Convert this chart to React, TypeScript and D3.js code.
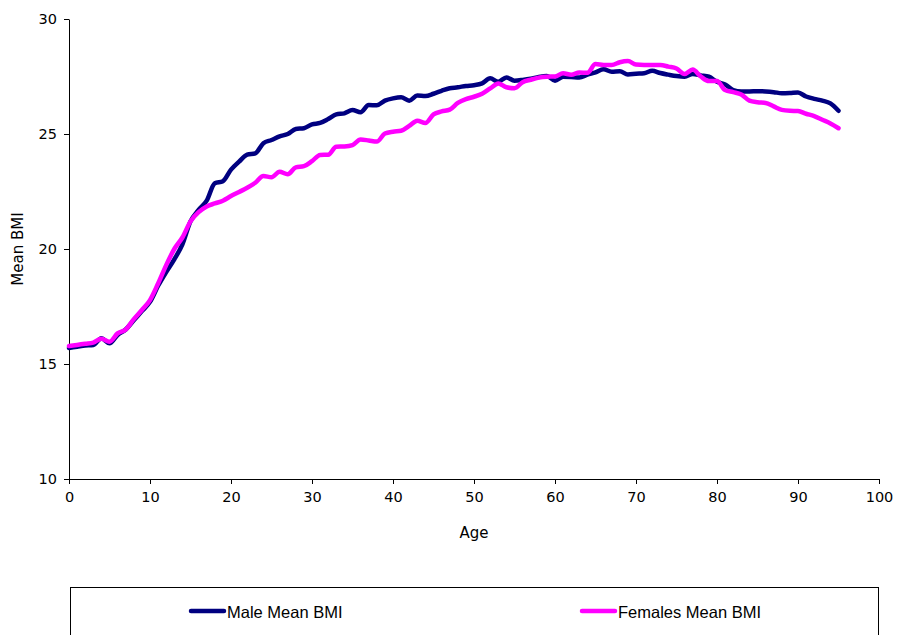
import { useEffect, useRef } from "react"
import * as d3 from "d3"

// mean BMI by single year of age
const ages = d3.range(0, 96)
const maleBmi = [
  15.7, 15.75, 15.8, 15.83, 16.12, 15.9, 16.26, 16.5, 16.9, 17.3,
  17.7, 18.4, 19.0, 19.55, 20.2, 21.2, 21.7, 22.1, 22.86, 22.95,
  23.45, 23.8, 24.1, 24.16, 24.6, 24.74, 24.9, 25.0, 25.22, 25.25,
  25.42, 25.48, 25.65, 25.85, 25.9, 26.04, 25.95, 26.26, 26.25, 26.45,
  26.55, 26.6, 26.45, 26.67, 26.65, 26.75, 26.88, 26.99, 27.03, 27.09,
  27.12, 27.2, 27.42, 27.27, 27.46, 27.32, 27.35, 27.4, 27.48, 27.52,
  27.32, 27.49, 27.48, 27.46, 27.58, 27.68, 27.81, 27.71, 27.73, 27.59,
  27.62, 27.64, 27.75, 27.65, 27.58, 27.52, 27.49, 27.61, 27.55, 27.49,
  27.27, 27.15, 26.91, 26.85, 26.85, 26.86, 26.85, 26.82, 26.77, 26.78,
  26.8, 26.63, 26.53, 26.45, 26.33, 26.01
]
const femaleBmi = [
  15.78, 15.83, 15.88, 15.93, 16.1, 15.97, 16.33, 16.5, 16.95, 17.35,
  17.78, 18.5, 19.3, 20.0, 20.5, 21.2, 21.6, 21.85, 21.98, 22.1,
  22.3, 22.48, 22.66, 22.88, 23.17, 23.12, 23.36, 23.25, 23.55, 23.6,
  23.82, 24.09, 24.1, 24.45, 24.46, 24.52, 24.76, 24.72, 24.67, 25.02,
  25.1, 25.14, 25.35, 25.58, 25.48, 25.85, 25.98, 26.06, 26.35, 26.52,
  26.62, 26.75, 26.98, 27.2, 27.03, 26.99, 27.25, 27.36, 27.45, 27.49,
  27.5, 27.64, 27.58, 27.67, 27.66, 28.04, 28.0, 28.0, 28.12, 28.17,
  28.02, 28.0, 28.0, 28.0, 27.93, 27.85, 27.61, 27.8, 27.5, 27.3,
  27.3, 26.91, 26.82, 26.72, 26.45, 26.38, 26.35, 26.2, 26.05, 26.01,
  26.0, 25.88, 25.78, 25.62, 25.46, 25.25
]
const xTicks = [0, 10, 20, 30, 40, 50, 60, 70, 80, 90, 100]
const yTicks = [10, 15, 20, 25, 30]

const series = [
  { name: "Male Mean BMI", values: maleBmi, color: "#000080" },
  { name: "Females Mean BMI", values: femaleBmi, color: "#ff00ff" }
]

const W = 897
const H = 635
const font = "DejaVu Sans, Verdana, sans-serif"

export default function App() {
  const svgRef = useRef<SVGSVGElement>(null)

  useEffect(() => {
    if (!svgRef.current) return
    const svg = d3.select(svgRef.current)
    svg.selectAll("*").remove()

    const x = d3.scaleLinear().domain([0, 100]).range([69, 879])
    const y = d3.scaleLinear().domain([10, 30]).range([479, 19])

    svg.append("rect").attr("width", W).attr("height", H).attr("fill", "#fff")

    // y axis
    const yAxis = svg.append("g")
      .attr("transform", `translate(${x(0)},0)`)
      .call(d3.axisLeft(y).tickValues(yTicks).tickSize(5).tickPadding(7).tickSizeOuter(0))
    yAxis.select(".domain").attr("stroke", "#000")
    yAxis.selectAll("line").attr("stroke", "#000")
    yAxis.selectAll("text").attr("font-family", font).attr("font-size", 14.5).attr("fill", "#000")

    // x axis
    const xAxis = svg.append("g")
      .attr("transform", `translate(0,${y(10)})`)
      .call(d3.axisBottom(x).tickValues(xTicks).tickSize(5).tickPadding(8).tickSizeOuter(0))
    xAxis.select(".domain").attr("stroke", "#000")
    xAxis.selectAll("line").attr("stroke", "#000")
    xAxis.selectAll("text").attr("font-family", font).attr("font-size", 14.5).attr("fill", "#000")

    // axis titles
    svg.append("text")
      .attr("x", 474).attr("y", 538)
      .attr("text-anchor", "middle")
      .attr("font-family", font).attr("font-size", 15)
      .text("Age")
    svg.append("text")
      .attr("transform", `translate(23,${(y(10) + y(30)) / 2}) rotate(-90)`)
      .attr("text-anchor", "middle")
      .attr("font-family", font).attr("font-size", 15)
      .text("Mean BMI")

    // lines
    const line = d3.line<number>()
      .x((_, i) => x(ages[i]))
      .y(d => y(d))
      .curve(d3.curveMonotoneX)

    series.forEach(s => {
      svg.append("path")
        .datum(s.values)
        .attr("fill", "none")
        .attr("stroke", s.color)
        .attr("stroke-width", 4.5)
        .attr("stroke-linejoin", "round")
        .attr("stroke-linecap", "round")
        .attr("d", line)
    })

    // legend box (runs off the bottom edge)
    svg.append("rect")
      .attr("x", 70.5).attr("y", 587.5)
      .attr("width", 808).attr("height", 80)
      .attr("fill", "#fff").attr("stroke", "#000")

    const legendX = [189, 580]
    series.forEach((s, i) => {
      const g = svg.append("g").attr("transform", `translate(${legendX[i]},611)`)
      g.append("line")
        .attr("x1", 2).attr("x2", 35)
        .attr("stroke", s.color).attr("stroke-width", 4.5).attr("stroke-linecap", "round")
      g.append("text")
        .attr("x", 38).attr("y", 7)
        .attr("font-family", "Liberation Sans, Arial, sans-serif").attr("font-size", 16.5)
        .text(s.name)
    })
  }, [])

  return (
    <svg
      ref={svgRef}
      width={W}
      height={H}
      style={{ position: "absolute", left: 0, top: 0, display: "block" }}
    />
  )
}
